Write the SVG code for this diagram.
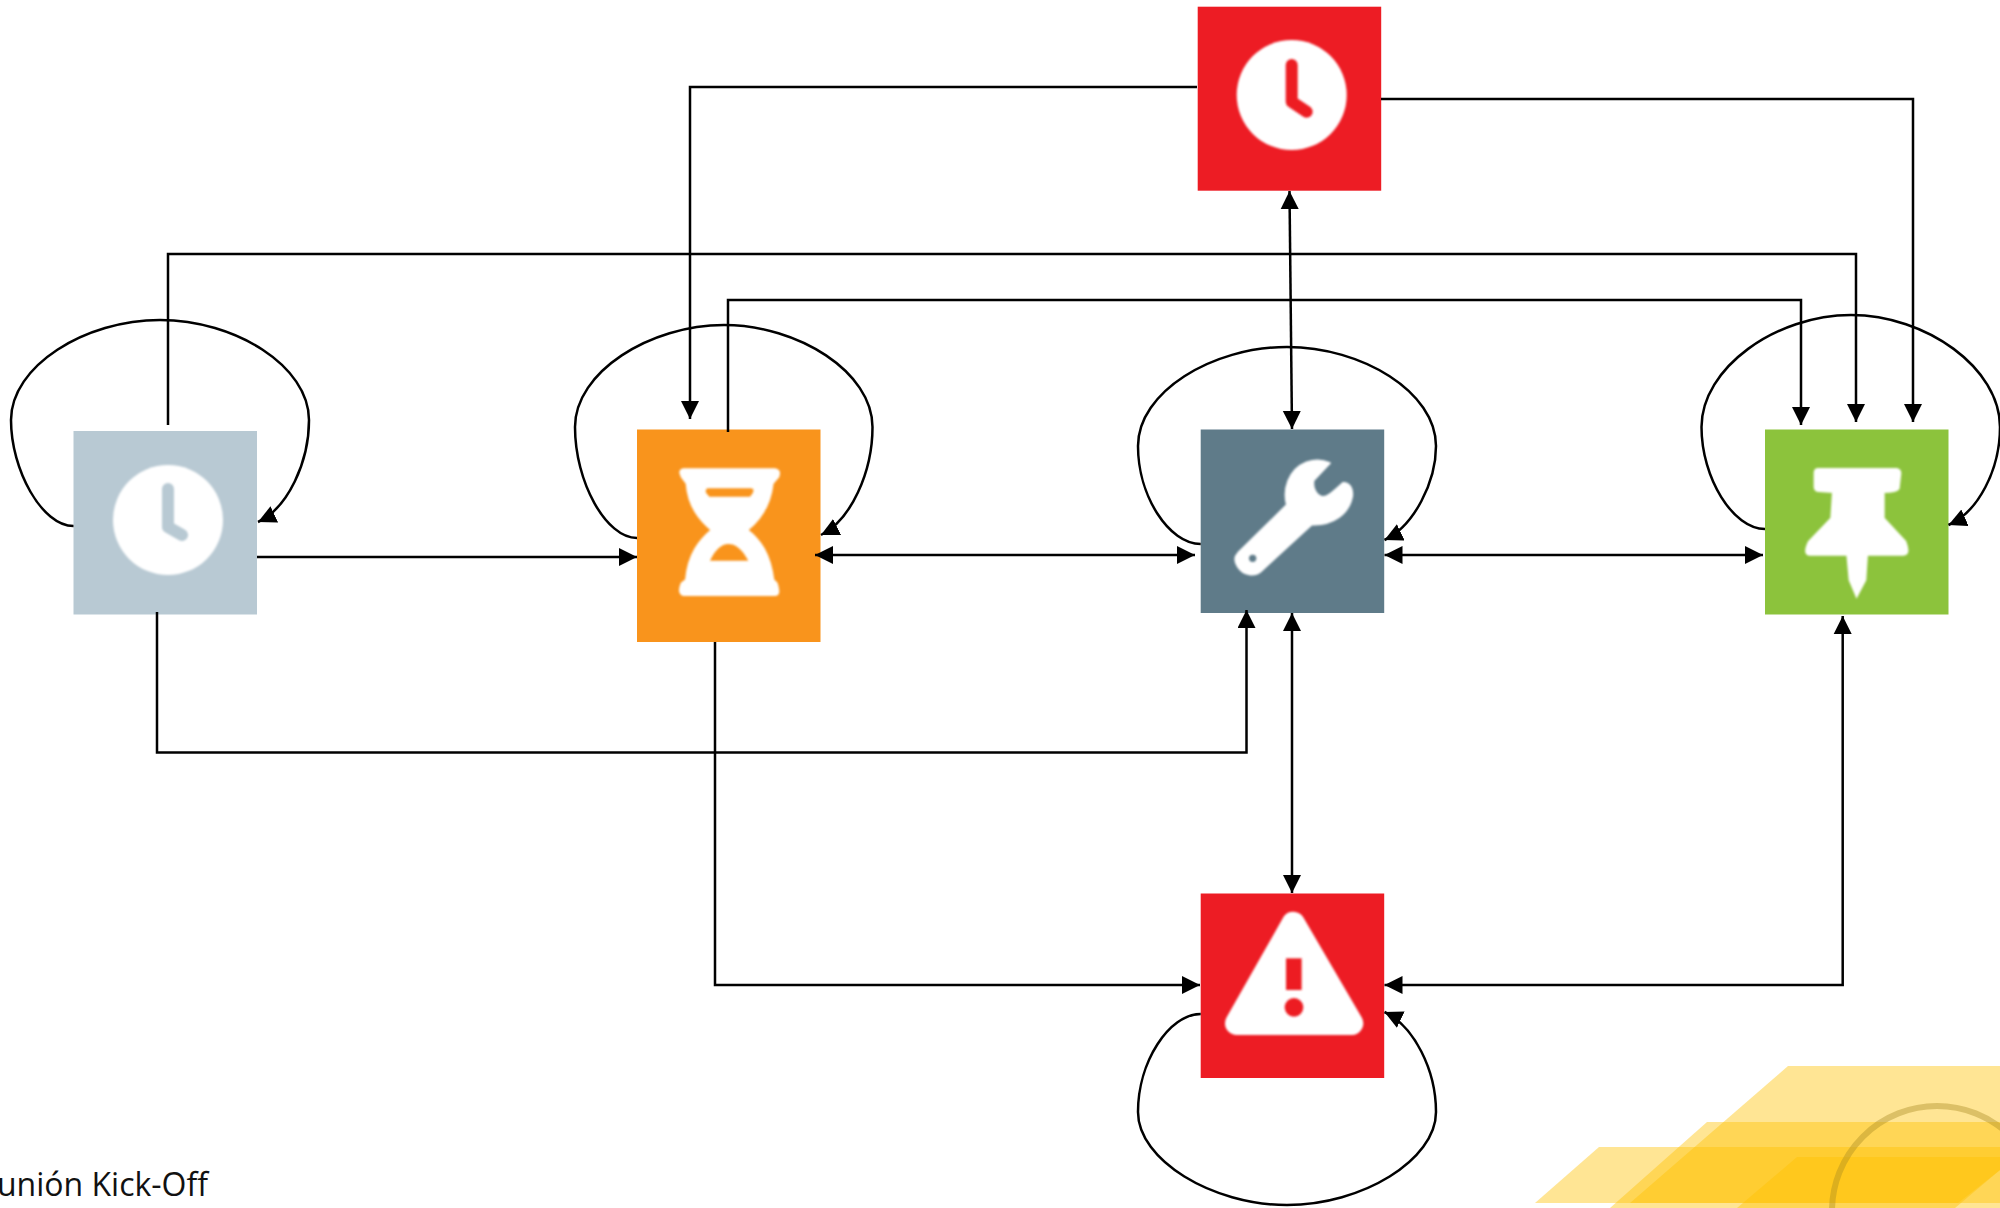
<svg xmlns="http://www.w3.org/2000/svg" width="2000" height="1208" viewBox="0 0 2000 1208">
<style>
.c{fill:none;stroke:#000;stroke-width:2.5}
.a{marker-end:url(#ah)}
.b{marker-start:url(#ahs);marker-end:url(#ah)}
.i{fill:#fff;stroke:#fff;filter:url(#softL)}
.h{fill:none;stroke-width:12;stroke-linecap:round;stroke-linejoin:round;filter:url(#soft)}
.t{font-family:"Open Sans","Noto Sans",sans-serif;font-size:32px;fill:#111}
.d{fill:#ffc000;fill-opacity:.42}
</style>
<defs>
<marker id="ah" markerUnits="userSpaceOnUse" markerWidth="20" markerHeight="20" refX="18" refY="9" orient="auto"><path d="M0 0L18 9L0 18Z"/></marker>
<marker id="ahs" markerUnits="userSpaceOnUse" markerWidth="20" markerHeight="20" refX="0" refY="9" orient="auto"><path d="M18 0L0 9L18 18Z"/></marker>
<filter id="soft" filterUnits="userSpaceOnUse" x="0" y="0" width="2000" height="1208"><feGaussianBlur stdDeviation="1.2"/></filter>
<filter id="softL" filterUnits="userSpaceOnUse" x="0" y="0" width="700" height="700"><feGaussianBlur stdDeviation="3.6"/></filter>
</defs>
<rect width="2000" height="1208" fill="#fff"/>
<g id="decor">
<polygon class="d" points="1788,1066 2000,1066 2000,1203 1630,1203"/>
<polygon class="d" points="1707,1122 2000,1122 2000,1208 1610,1208"/>
<polygon class="d" points="1599,1147 2000,1147 2000,1170 1958,1203 1535,1203"/>
<polygon class="d" points="1797,1157 2000,1157 2000,1170 1955,1208 1737,1208"/>
<circle cx="1937" cy="1211" r="105" fill="none" stroke="#a88a20" stroke-opacity=".4" stroke-width="6"/>
</g>
<text class="t" x="208" y="1196" text-anchor="end">unión Kick-Off</text>
<g id="n1"><rect x="73.500" y="431" width="183.500" height="183.500" fill="#b8c9d3"/>
<circle cx="168" cy="520" r="55" fill="#fff" filter="url(#soft)"/><path class="h" d="M168 489V527L182 535" stroke="#b8c9d3"/></g>
<g id="n2"><rect x="637" y="429.500" width="183.500" height="212.500" fill="#f9941c"/>
<g transform="translate(620 420) scale(.3333)"><path class="i" stroke-width="6" d="M190 148L465 148Q482 150 475 170L458 190C450 260 420 300 382 330C420 360 450 400 460 480L470 490Q482 525 465 525L190 525Q173 520 185 490L198 480C205 400 240 360 275 330C240 300 205 260 200 190L185 170Q175 150 190 148Z"/><path d="M265 205H392Q405 205 398 220L390 230H268L258 218Q255 205 265 205ZM270 422L385 422C365 385 345 372 325 372C305 372 285 390 270 422Z" fill="#f9941c" filter="url(#softL)"/></g></g>
<g id="n3"><rect x="1200.700" y="429.500" width="183.500" height="183.500" fill="#5f7b89"/>
<g transform="translate(1180 420) scale(.3333)"><path class="i" stroke-width="8" d="M175 400L322 255C310 210 325 150 380 128C405 120 430 122 447 130L400 180C395 200 405 225 425 232C440 235 455 222 490 190C510 190 518 210 515 230C505 280 460 315 395 312L245 450C225 470 190 465 175 440C165 425 165 410 175 400Z"/><circle cx="218" cy="415" r="11" fill="#5f7b89" filter="url(#softL)"/></g></g>
<g id="n4"><rect x="1765" y="429.500" width="183.500" height="185" fill="#8cc33c"/>
<g transform="translate(1750 420) scale(.3333)"><path class="i" stroke-width="8" d="M205 148L440 148Q450 150 450 160L445 205Q440 215 400 215L400 295L465 365Q480 403 460 403L350 403L345 480L320 527L300 480L293 403L180 403Q160 403 178 365L245 295L250 215L205 212Q195 210 195 200L195 158Q195 148 205 148Z"/></g></g>
<g id="n5"><rect x="1200.700" y="893.500" width="183.500" height="184.500" fill="#ed1c24"/>
<g transform="translate(1180 880) scale(.3333)"><path class="i" stroke-width="70" stroke-linejoin="round" d="M340 130L515 430L170 430Z"/><path d="M318 235H365V330H318Z" fill="#ed1c24" filter="url(#softL)"/><circle cx="342" cy="382" r="28" fill="#ed1c24" filter="url(#softL)"/></g></g>
<g id="n6"><rect x="1197.700" y="6.700" width="183.500" height="184" fill="#ed1c24"/>
<circle cx="1291.700" cy="95" r="55" fill="#fff" filter="url(#soft)"/><path class="h" d="M1291.700 65V101.700L1306.700 111.700" stroke="#ed1c24"/></g>
<g id="connectors">
<path class="c a" d="M1197 87H690V419"/>
<path class="c a" d="M1381 99H1913V422"/>
<path class="c b" d="M1289.500 191L1292 429"/>
<path class="c a" d="M168 425V254H1856V422"/>
<path class="c a" d="M728 432V300H1801V425"/>
<path class="c a" d="M257 557H637"/>
<path class="c a" d="M157 612V752.500H1246.500V610"/>
<path class="c a" d="M715 642V985H1200"/>
<path class="c b" d="M815 555H1195"/>
<path class="c b" d="M1384.500 555H1763"/>
<path class="c b" d="M1292 613V893"/>
<path class="c b" d="M1842.700 616V985H1384.500"/>
<path class="c a" d="M73.500 526C42 526 11 470 11 420C11 366 85 320 160 320C235 320 309 366 309 420C309 462 288 508 258 522"/>
<path class="c a" d="M637 538C606 538 575 482 575 427C575 372 650 325 724 325C798 325 872.500 372 872.500 427C872.500 472 851 520 821 535"/>
<path class="c a" d="M1200.700 544C1169 544 1138 496 1138 446C1138 392 1212 347 1287 347C1362 347 1436 392 1436 446C1436 482 1414 526 1384.500 540"/>
<path class="c a" d="M1765 529C1733 529 1701.500 478 1701.500 427C1701.500 368 1776 315 1851 315C1926 315 2000 368 2000 427C2000 470 1978 512 1948.500 525"/>
<path class="c a" d="M1200.700 1014C1169 1014 1138 1062 1138 1112C1138 1160 1212 1205 1287 1205C1362 1205 1436 1160 1436 1112C1436 1070 1414 1026 1384.500 1012"/>
</g>
</svg>
